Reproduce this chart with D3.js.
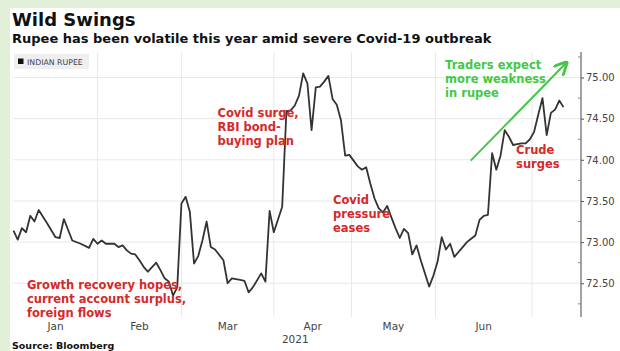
<!DOCTYPE html>
<html><head><meta charset="utf-8">
<script src="https://cdn.jsdelivr.net/npm/d3@7"></script>
<style>
html,body{margin:0;padding:0;background:#e2efd9;}
svg{display:block;}
</style></head>
<body><svg id="c" width="620" height="351"></svg>
<script>
// ---- data (trading-day index, rupee per USD) ----
const dayIdx = [0,1,2,3,4,5,6,8,10,11,12,13,14,16,18,19,20,21,22,24,25,26,27,28,29,30,31,32,34,35,36,37,38,39,
  40,41,42,43,44,45,46,47,48,50,51,52,54,55,56,57,59,60,61,62,64,65,66,67,68,69,70,71,72,73,74,75,76,77,78,79,80,
  82,83,84,85,86,87,88,89,90,91,92,93,94,95,96,97,99,100,101,102,103,104,105,106,107,108,109,110,111,112,113,
  114,115,116,117,118,119,120,121,122,123,124,125,126,127,128,129,130,131];
const rupee = [73.14,73.03,73.17,73.12,73.32,73.25,73.39,73.23,73.06,73.05,73.28,73.15,73.02,72.98,72.93,73.04,72.98,73.02,72.98,72.98,72.94,72.96,72.90,72.86,72.85,72.78,72.70,72.64,72.75,72.66,72.56,72.52,72.35,72.45,
  73.47,73.55,73.37,72.74,72.83,73.02,73.25,72.94,72.91,72.78,72.50,72.56,72.54,72.53,72.39,72.45,72.62,72.52,73.38,73.12,73.43,74.59,74.60,74.66,74.78,75.05,74.93,74.36,74.88,74.89,74.95,75.02,74.74,74.67,74.48,74.05,74.06,
  73.92,73.88,73.91,73.71,73.53,73.41,73.36,73.44,73.30,73.17,73.05,73.16,73.11,72.85,72.96,72.78,72.46,72.59,72.76,73.06,72.91,72.98,72.82,72.88,72.94,73.00,73.04,73.08,73.27,73.32,73.33,
  74.08,73.88,74.05,74.36,74.28,74.18,74.19,74.20,74.20,74.25,74.34,74.55,74.75,74.30,74.57,74.61,74.72,74.64];
const monthBreaks = [20, 40, 62, 80.5, 100.5, 123.5];
const monthNames = ["Jan","Feb","Mar","Apr","May","Jun"];
const yearLabel = "2021";
const yTicks = [72.5, 73.0, 73.5, 74.0, 74.5, 75.0];
const yMinor = [72.25, 72.75, 73.25, 73.75, 74.25, 74.75, 75.25];
const title = "Wild Swings";
const subtitle = "Rupee has been volatile this year amid severe Covid-19 outbreak";
const legendLabel = "INDIAN RUPEE";
const source = "Source: Bloomberg";
const notes = [
  {lines:["Growth recovery hopes,","current account surplus,","foreign flows"], day:3.2, v:72.43, color:"#d42a2a"},
  {lines:["Covid surge,","RBI bond-","buying plan"], day:48.6, v:74.52, color:"#d42a2a"},
  {lines:["Covid","pressure","eases"], day:76.1, v:73.46, color:"#d42a2a"},
  {lines:["Crude","surges"], day:119.7, v:74.07, color:"#d42a2a"},
  {lines:["Traders expect","more weakness","in rupee"], day:102.8, v:75.1, color:"#44c844"}
];
const arrowFrom = {day:108.9, v:73.99};
const arrowTo = {day:131.5, v:75.17};

// ---- drawing ----
const svg = d3.select("#c");
const font = "'DejaVu Sans', Verdana, sans-serif";
svg.append("rect").attr("x",10).attr("y",8).attr("width",610).attr("height",343).attr("fill","#fff");

const x = d3.scaleLinear().domain([0, 123.5]).range([13.5, 532]);
const y = d3.scaleLinear().domain([72.09, 75.31]).range([317, 52]);
const axisX = 581;

// gridlines
svg.append("g").selectAll("line").data(yTicks).join("line")
  .attr("x1",13).attr("x2",axisX).attr("y1",d=>y(d)).attr("y2",d=>y(d))
  .attr("stroke","#e9e9e9").attr("stroke-width",1);
svg.append("g").selectAll("line").data(monthBreaks).join("line")
  .attr("x1",d=>x(d)).attr("x2",d=>x(d)).attr("y1",52).attr("y2",317)
  .attr("stroke","#e9e9e9").attr("stroke-width",1);

// titles
svg.append("text").attr("x",12).attr("y",26).text(title)
  .attr("font-family",font).attr("font-weight","bold").attr("font-size",18).attr("fill","#111");
svg.append("text").attr("x",12).attr("y",43).text(subtitle)
  .attr("font-family",font).attr("font-weight","bold").attr("font-size",13).attr("fill","#111");

// legend
svg.append("rect").attr("x",14).attr("y",54).attr("width",75).attr("height",15).attr("fill","#efefef");
svg.append("rect").attr("x",18).attr("y",58.5).attr("width",5.5).attr("height",5.5).attr("fill","#111");
svg.append("text").attr("x",27).attr("y",64.5).text(legendLabel)
  .attr("font-family",font).attr("font-size",7.8).attr("fill","#444");

// right axis
const ax = d3.axisRight(y).tickValues(yTicks).tickFormat(d3.format(".2f")).tickSize(3).tickSizeOuter(0).tickPadding(2);
const gA = svg.append("g").attr("transform",`translate(${axisX},0)`).call(ax);
gA.select(".domain").remove();
gA.selectAll("line").attr("stroke","#555");
gA.selectAll("text").attr("font-family",font).attr("font-size",10).attr("fill","#444");
svg.append("line").attr("x1",axisX).attr("x2",axisX).attr("y1",52).attr("y2",317).attr("stroke","#666").attr("stroke-width",1.2);
svg.append("g").selectAll("line").data(yMinor).join("line")
  .attr("x1",axisX-3).attr("x2",axisX).attr("y1",d=>y(d)).attr("y2",d=>y(d)).attr("stroke","#888");

// month labels
svg.append("g").selectAll("text").data(monthNames).join("text")
  .attr("x",(d,i)=>x(((i===0?0:monthBreaks[i-1]) + monthBreaks[i])/2))
  .attr("y",329.5).attr("text-anchor","middle").text(d=>d)
  .attr("font-family",font).attr("font-size",10.5).attr("fill","#444");
svg.append("text").attr("x",x((monthBreaks[2]+monthBreaks[3])/2)-4).attr("y",343)
  .attr("text-anchor","end").text(yearLabel)
  .attr("font-family",font).attr("font-size",10.5).attr("fill","#444");

// line
const pts = dayIdx.map((d,i)=>[d, rupee[i]]);
svg.append("path").datum(pts)
  .attr("d", d3.line().x(d=>x(d[0])).y(d=>y(d[1])))
  .attr("fill","none").attr("stroke","#333").attr("stroke-width",1.8).attr("stroke-linejoin","round");

// annotations
notes.forEach(n=>{
  const t = svg.append("text").attr("font-family",font).attr("font-weight","bold")
    .attr("font-size",11.5).attr("fill",n.color);
  n.lines.forEach((l,i)=>{
    t.append("tspan").attr("x",x(n.day)).attr("y",y(n.v)+i*14).text(l);
  });
});

// arrow
const defs = svg.append("defs");
defs.append("marker").attr("id","ah").attr("viewBox","0 0 10 10").attr("refX",8).attr("refY",5)
  .attr("markerWidth",7).attr("markerHeight",7).attr("orient","auto")
  .append("path").attr("d","M0,0 L10,5 L0,10").attr("fill","none").attr("stroke","#44c844").attr("stroke-width",2);
svg.append("line").attr("x1",x(arrowFrom.day)).attr("y1",y(arrowFrom.v))
  .attr("x2",x(arrowTo.day)).attr("y2",y(arrowTo.v))
  .attr("stroke","#44c844").attr("stroke-width",2).attr("marker-end","url(#ah)");

// source
svg.append("text").attr("x",12).attr("y",348.5).text(source)
  .attr("font-family",font).attr("font-weight","bold").attr("font-size",9.5).attr("fill","#111");
</script>
</body></html>
